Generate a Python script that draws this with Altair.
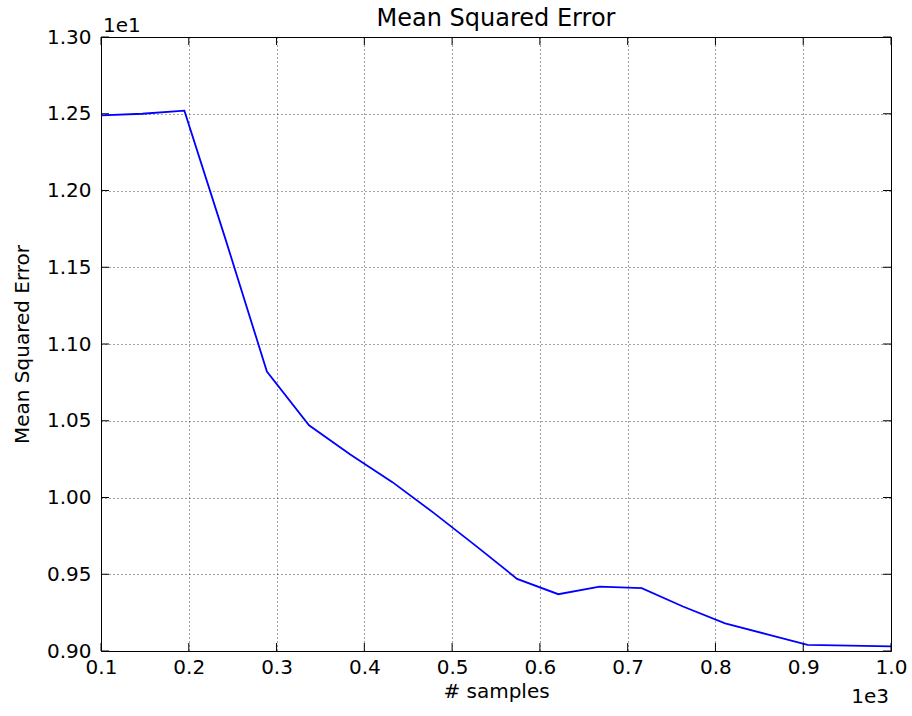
import altair as alt
import pandas as pd

# data (original units: samples, MSE)
samples = [100, 147, 195, 242, 289, 337, 384, 432, 479, 526,
           574, 621, 668, 716, 763, 811, 858, 905, 953, 1000]
mse = [12.49, 12.50, 12.52, 11.68, 10.82, 10.47, 10.28, 10.10, 9.90, 9.69,
       9.47, 9.37, 9.42, 9.41, 9.29, 9.18, 9.11, 9.04, 9.035, 9.03]
x_ticks = [0.1, 0.2, 0.3, 0.4, 0.5, 0.6, 0.7, 0.8, 0.9, 1.0]
y_ticks = [0.90, 0.95, 1.00, 1.05, 1.10, 1.15, 1.20, 1.25, 1.30]

W, H = 790, 614
FONT = "DejaVu Sans"

df = pd.DataFrame({"samples": samples, "mse": mse})
xt = pd.DataFrame({"xs": x_ticks})
yt = pd.DataFrame({"ys": y_ticks})

xscale = alt.Scale(domain=[0.1, 1.0], nice=False, zero=False)
yscale = alt.Scale(domain=[0.9, 1.3], nice=False, zero=False)
xaxis = alt.Axis(values=x_ticks, format=".1f", tickSize=0, labelFlush=False,
                 labelOverlap=False, labelPadding=6, titlePadding=4)
yaxis = alt.Axis(values=y_ticks, format=".2f", tickSize=0, labelFlush=False,
                 labelOverlap=False, labelPadding=10, titlePadding=14)
X = alt.X("xs:Q", scale=xscale, title="# samples", axis=xaxis)
Y = alt.Y("ys:Q", scale=yscale, title="Mean Squared Error", axis=yaxis)

line = alt.Chart(df).transform_calculate(
    xs="datum.samples / 1000", ys="datum.mse / 10"
).mark_line(color="#0000ff", strokeWidth=1.8).encode(x=X, y=Y)

tick_style = dict(color="black", strokeWidth=1)
xb = alt.Chart(xt).mark_rule(**tick_style).encode(
    x=X, y=alt.value(H), y2=alt.value(H - 8))
xtop = alt.Chart(xt).mark_rule(**tick_style).encode(
    x=X, y=alt.value(0), y2=alt.value(8))
yl = alt.Chart(yt).mark_rule(**tick_style).encode(
    y=Y, x=alt.value(0), x2=alt.value(8))
yr = alt.Chart(yt).mark_rule(**tick_style).encode(
    y=Y, x=alt.value(W), x2=alt.value(W - 8))

exp_y = alt.Chart(pd.DataFrame({"t": ["1e1"]})).mark_text(
    align="left", baseline="alphabetic", font=FONT, fontSize=20, color="black"
).encode(text="t:N", x=alt.value(2), y=alt.value(-5))
exp_x = alt.Chart(pd.DataFrame({"t": ["1e3"]})).mark_text(
    align="right", baseline="alphabetic", font=FONT, fontSize=20, color="black"
).encode(text="t:N", x=alt.value(W - 2), y=alt.value(H + 52))

chart = alt.layer(line, xb, xtop, yl, yr, exp_y, exp_x).properties(
    width=W, height=H,
    autosize=alt.AutoSizeParams(type="none"),
    padding={"left": 101, "top": 37, "right": 21, "bottom": 65},
    title=alt.TitleParams("Mean Squared Error", font=FONT, fontSize=24,
                          fontWeight="normal", color="black", frame="group",
                          anchor="middle", offset=-15),
).configure(background="white").configure_view(
    stroke="black", strokeWidth=1
).configure_axis(
    labelFont=FONT, labelFontSize=20, labelColor="black",
    titleFont=FONT, titleFontSize=20, titleColor="black", titleFontWeight="normal",
    domain=False, grid=True, gridColor="#000000", gridDash=[1, 3],
    gridWidth=1, gridOpacity=0.75,
)

chart.save("out.html", embed_options={"renderer": "svg", "actions": False})
